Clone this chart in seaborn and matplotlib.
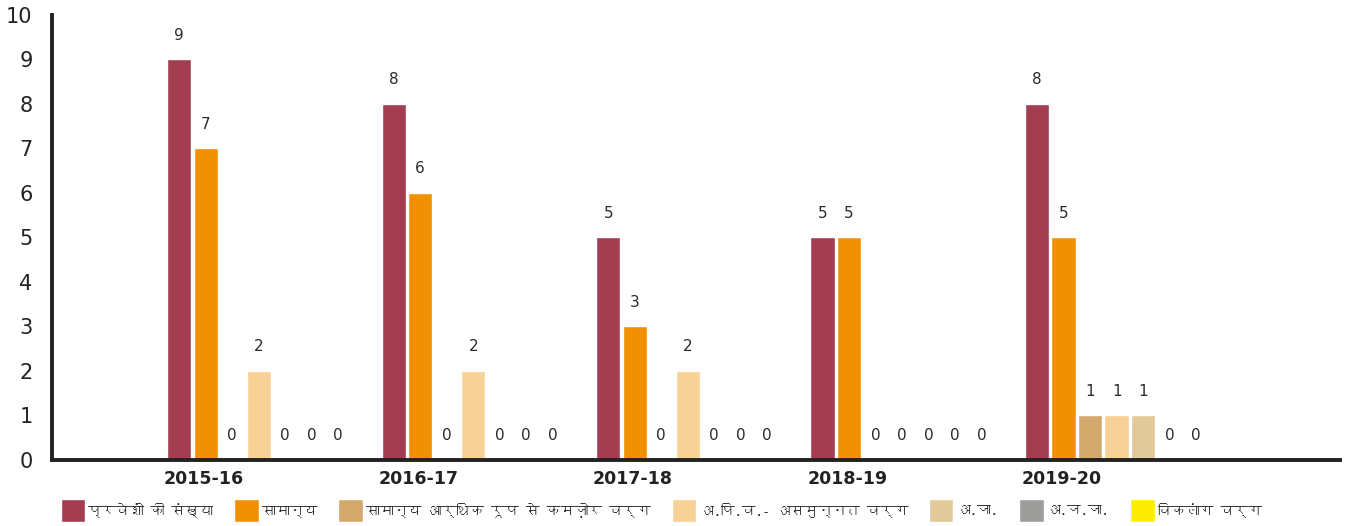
import matplotlib
matplotlib.use("Agg")
import matplotlib.pyplot as plt
from matplotlib import font_manager, ft2font
import seaborn as sns
import pandas as pd

# ---- data -------------------------------------------------------------
years = ["2015-16", "2016-17", "2017-18", "2018-19", "2019-20"]
categories = [
    "प्रवेशों की संख्या",
    "सामान्य",
    "सामान्य आर्थिक रूप से कमज़ोर वर्ग",
    "अ.पि.व.- असमुन्नत वर्ग",
    "अ.जा.",
    "अ.ज.जा.",
    "विकलांग वर्ग",
]
admissions = [9, 8, 5, 5, 8]
general = [7, 6, 3, 5, 5]
ews = [0, 0, 0, 0, 1]
obc = [2, 2, 2, 0, 1]
sc = [0, 0, 0, 0, 1]
st = [0, 0, 0, 0, 0]
disabled = [0, 0, 0, 0, 0]
series = [admissions, general, ews, obc, sc, st, disabled]
colors = ["#A33D50", "#F29100", "#D4A96E", "#F7D196", "#E2C99A", "#9D9D9C", "#FFED00"]

rows = []
for cat, vals in zip(categories, series):
    for yr, v in zip(years, vals):
        rows.append({"year": yr, "category": cat, "value": v})
df = pd.DataFrame(rows)

# ---- fonts: pick an installed face that covers Devanagari ----------------
def family_with(codepoint):
    for path in sorted(font_manager.findSystemFonts()):
        try:
            if codepoint in ft2font.FT2Font(path).get_charmap():
                return font_manager.FontProperties(fname=path).get_name()
        except Exception:
            continue
    return None

sns.set_theme(style="white")
deva = family_with(0x0915)
fams = ["DejaVu Sans"]
if deva:
    fams = [deva, "DejaVu Sans"]
plt.rcParams["font.family"] = fams

# ---- figure -----------------------------------------------------------
fig = plt.figure(figsize=(13.48, 5.26), dpi=100)
ax = fig.add_axes([0.0386, 0.1255, 0.9554, 0.846])

sns.barplot(data=df, x="year", y="value", hue="category", hue_order=categories,
            palette=colors, width=0.865, gap=0.08, saturation=1,
            errorbar=None, legend=True, ax=ax)

for cont in ax.containers:
    ax.bar_label(cont, fmt="{:.0f}", padding=12, fontsize=11, color="#2b2b2b",
                 family="DejaVu Sans")

ax.set_ylim(0, 10)
ax.set_xlim(-0.964, 5.041)
ax.set_yticks(range(0, 11))
ax.set_yticklabels([str(i) for i in range(0, 11)], fontsize=15, color="#222222",
                   family="DejaVu Sans")
ax.set_xticks([i - 0.256 for i in range(len(years))])
ax.set_xticklabels(years, fontsize=12.5, fontweight="bold", color="#222222",
                   family="DejaVu Sans")
ax.tick_params(axis="x", length=0, pad=7)
ax.tick_params(axis="y", direction="in", length=8, width=2.5, color="#222222", pad=14)
ax.set_xticks([5.041], minor=True)
ax.tick_params(axis="x", which="minor", direction="in", length=8, width=2.5,
               color="#222222")
ax.set_xlabel("")
ax.set_ylabel("")

for s in ["top", "right"]:
    ax.spines[s].set_visible(False)
for s in ["left", "bottom"]:
    ax.spines[s].set_linewidth(2.8)
    ax.spines[s].set_color("#222222")

handles, labels = ax.get_legend_handles_labels()
ax.get_legend().remove()
fig.legend(handles, labels, loc="center left", bbox_to_anchor=(0.045, 0.03),
           ncol=7, frameon=False, fontsize=10, handlelength=1.75, handleheight=2.2,
           handletextpad=0.25, columnspacing=1.5, borderaxespad=0, borderpad=0)

fig.savefig("out.png", dpi=100)
